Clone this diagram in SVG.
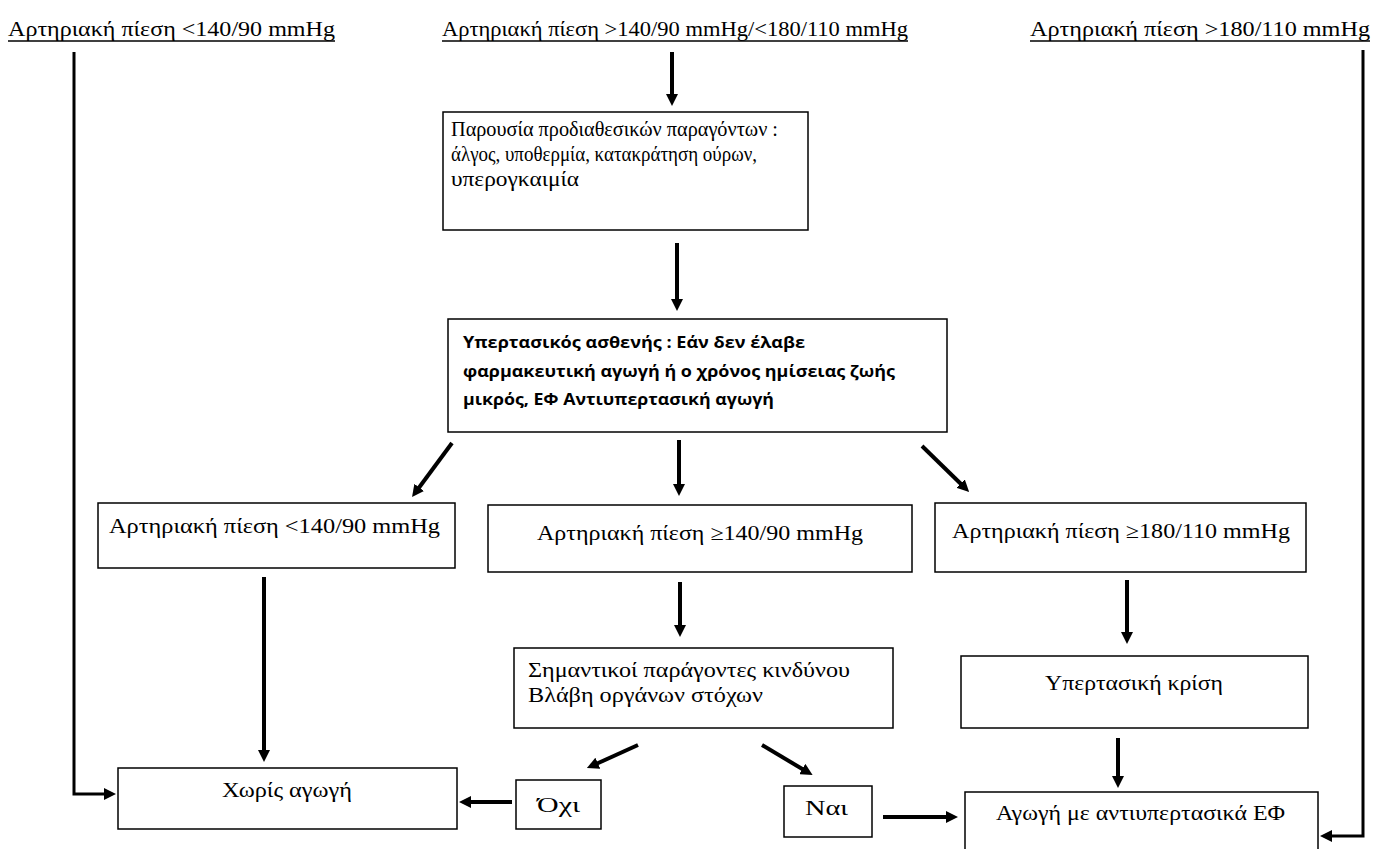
<svg xmlns="http://www.w3.org/2000/svg" width="1373" height="849" viewBox="0 0 1373 849">
<style>
.t{font-family:"Liberation Serif","DejaVu Serif","Times New Roman",serif;font-size:21px;fill:#000}
.b{font-family:"Open Sans","Liberation Sans",sans-serif;font-size:16px;font-weight:700;fill:#000}
.box{fill:#fff;stroke:#000;stroke-width:1.5}
.ar{stroke:#000;stroke-width:4;fill:none;marker-end:url(#ah)}
.ln{stroke:#000;stroke-width:3;fill:none;marker-end:url(#ah)}
.ul{stroke:#000;stroke-width:1.5}
</style>
<defs>
<marker id="ah" markerWidth="12" markerHeight="12" refX="2" refY="6" orient="auto" markerUnits="userSpaceOnUse">
<path d="M0,0 L12,6 L0,12 z" fill="#000"/>
</marker>
</defs>
<rect width="1373" height="849" fill="#fff"/>

<g id="h1">
<text class="t" x="8" y="36" textLength="327" lengthAdjust="spacingAndGlyphs">Αρτηριακή πίεση &lt;140/90 mmHg</text>
<line class="ul" x1="8" y1="41" x2="335" y2="41"/>
</g>
<g id="h2">
<text class="t" x="442" y="36" textLength="466" lengthAdjust="spacingAndGlyphs">Αρτηριακή πίεση &gt;140/90 mmHg/&lt;180/110 mmHg</text>
<line class="ul" x1="442" y1="41" x2="908" y2="41"/>
</g>
<g id="h3">
<text class="t" x="1030" y="36" textLength="340" lengthAdjust="spacingAndGlyphs">Αρτηριακή πίεση &gt;180/110 mmHg</text>
<line class="ul" x1="1030" y1="41" x2="1370" y2="41"/>
</g>

<g id="nA">
<rect class="box" x="443" y="112" width="365" height="118"/>
<text class="t" x="451" y="136" textLength="327" lengthAdjust="spacingAndGlyphs">Παρουσία προδιαθεσικών παραγόντων :</text>
<text class="t" x="451" y="161" textLength="306" lengthAdjust="spacingAndGlyphs">άλγος, υποθερμία, κατακράτηση ούρων,</text>
<text class="t" x="451" y="186" textLength="128" lengthAdjust="spacingAndGlyphs">υπερογκαιμία</text>
</g>

<g id="nB">
<rect class="box" x="448" y="319" width="499" height="113"/>
<text class="b" x="463" y="348" textLength="342" lengthAdjust="spacingAndGlyphs">Υπερτασικός ασθενής : Εάν δεν έλαβε</text>
<text class="b" x="463" y="377" textLength="432" lengthAdjust="spacingAndGlyphs">φαρμακευτική αγωγή ή ο χρόνος ημίσειας ζωής</text>
<text class="b" x="463" y="405" textLength="311" lengthAdjust="spacingAndGlyphs">μικρός, ΕΦ Αντιυπερτασική αγωγή</text>
</g>

<g id="nC1">
<rect class="box" x="98" y="503" width="357" height="65"/>
<text class="t" x="109" y="533" textLength="331" lengthAdjust="spacingAndGlyphs">Αρτηριακή πίεση &lt;140/90 mmHg</text>
</g>
<g id="nC2">
<rect class="box" x="488" y="505" width="424" height="67"/>
<text class="t" x="537" y="540" textLength="326" lengthAdjust="spacingAndGlyphs">Αρτηριακή πίεση ≥140/90 mmHg</text>
</g>
<g id="nC3">
<rect class="box" x="935" y="503" width="371" height="69"/>
<text class="t" x="952" y="538" textLength="338" lengthAdjust="spacingAndGlyphs">Αρτηριακή πίεση ≥180/110 mmHg</text>
</g>

<g id="nD">
<rect class="box" x="514" y="648" width="379" height="80"/>
<text class="t" x="528" y="677" textLength="322" lengthAdjust="spacingAndGlyphs">Σημαντικοί παράγοντες κινδύνου</text>
<text class="t" x="528" y="702" textLength="235" lengthAdjust="spacingAndGlyphs">Βλάβη οργάνων στόχων</text>
</g>

<g id="nE">
<rect class="box" x="961" y="656" width="347" height="72"/>
<text class="t" x="1045" y="690" textLength="178" lengthAdjust="spacingAndGlyphs">Υπερτασική κρίση</text>
</g>

<g id="nNo">
<rect class="box" x="516" y="780" width="85" height="49"/>
<text class="t" x="537" y="812" textLength="43" lengthAdjust="spacingAndGlyphs">Όχι</text>
</g>
<g id="nYes">
<rect class="box" x="784" y="786" width="88" height="51"/>
<text class="t" x="805" y="815" textLength="43" lengthAdjust="spacingAndGlyphs">Ναι</text>
</g>

<g id="nX">
<rect class="box" x="118" y="768" width="339" height="61"/>
<text class="t" x="222" y="797" textLength="130" lengthAdjust="spacingAndGlyphs">Χωρίς αγωγή</text>
</g>

<g id="nF">
<rect class="box" x="965" y="792" width="353" height="64"/>
<text class="t" x="996" y="820" textLength="289" lengthAdjust="spacingAndGlyphs">Αγωγή με αντιυπερτασικά ΕΦ</text>
</g>

<g id="connectors">
<line class="ar" x1="672" y1="52" x2="672" y2="96"/>
<line class="ar" x1="677" y1="243" x2="677" y2="301"/>
<line class="ar" x1="452" y1="443" x2="418" y2="489"/>
<line class="ar" x1="679" y1="440" x2="679" y2="486"/>
<line class="ar" x1="922" y1="446" x2="962" y2="485"/>
<line class="ar" x1="264" y1="577" x2="264" y2="752"/>
<line class="ar" x1="680" y1="582" x2="680" y2="627"/>
<line class="ar" x1="1127" y1="580" x2="1127" y2="634"/>
<line class="ar" x1="1118" y1="738" x2="1118" y2="778"/>
<line class="ar" x1="638" y1="745" x2="596" y2="764"/>
<line class="ar" x1="762" y1="745" x2="804" y2="770"/>
<line class="ar" x1="512" y1="802" x2="469" y2="802"/>
<line class="ar" x1="883" y1="817" x2="948" y2="817"/>
<path class="ln" d="M74,52 V794 H106"/>
<path class="ln" d="M1363,50 V836 H1330"/>
</g>
</svg>
